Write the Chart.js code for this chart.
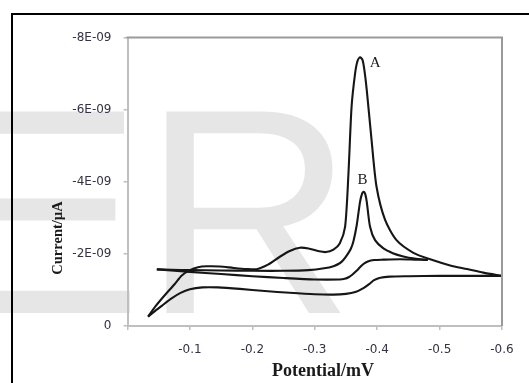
<!DOCTYPE html>
<html><head><meta charset="utf-8">
<script src="https://cdn.jsdelivr.net/npm/chart.js@4/dist/chart.umd.min.js"></script>
<style>html,body{margin:0;padding:0;background:#fff;overflow:hidden}#wrap{position:relative;width:529px;height:383px}</style>
</head><body><div id="wrap"><canvas id="c" width="529" height="383"></canvas></div>
<script>
// Potential in V (x axis is reversed), current in units of 1E-09
const aFwdPotential = [-0.033,-0.045,-0.06,-0.075,-0.087,-0.1,-0.113,-0.127,-0.148,-0.17,-0.19,-0.207,-0.225,-0.244,-0.26,-0.276,-0.29,-0.305,-0.318,-0.33,-0.34,-0.3486,-0.354,-0.359,-0.3646,-0.3685,-0.3726,-0.3765,-0.3795,-0.3833,-0.391,-0.399,-0.4127,-0.431,-0.458,-0.485,-0.517,-0.544,-0.57,-0.6];
const aFwdCurrent   = [-0.26,-0.55,-0.86,-1.15,-1.4,-1.55,-1.63,-1.655,-1.65,-1.61,-1.58,-1.575,-1.7,-1.92,-2.08,-2.17,-2.15,-2.08,-2.05,-2.12,-2.29,-2.75,-4.23,-6.08,-7.0,-7.35,-7.45,-7.38,-7.1,-6.545,-5.16,-3.86,-2.94,-2.38,-2.03,-1.85,-1.68,-1.58,-1.48,-1.39];
const aRevPotential = [-0.6,-0.55,-0.5,-0.45,-0.42,-0.405,-0.395,-0.387,-0.378,-0.365,-0.35,-0.33,-0.3,-0.26,-0.22,-0.18,-0.145,-0.12,-0.1,-0.085,-0.07,-0.055,-0.043,-0.033];
const aRevCurrent   = [-1.39,-1.39,-1.39,-1.38,-1.37,-1.34,-1.27,-1.16,-1.05,-0.94,-0.89,-0.87,-0.88,-0.92,-0.97,-1.03,-1.07,-1.07,-1.02,-0.92,-0.76,-0.56,-0.4,-0.26];
const bFwdPotential = [-0.047,-0.07,-0.1,-0.15,-0.2,-0.25,-0.29,-0.315,-0.33,-0.34,-0.3458,-0.353,-0.358,-0.362,-0.3673,-0.3726,-0.376,-0.3785,-0.381,-0.3833,-0.3886,-0.3966,-0.41,-0.425,-0.442,-0.46,-0.481];
const bFwdCurrent   = [-1.57,-1.56,-1.55,-1.54,-1.53,-1.53,-1.55,-1.6,-1.66,-1.74,-1.83,-2.0,-2.15,-2.35,-2.8,-3.45,-3.68,-3.72,-3.65,-3.45,-2.75,-2.38,-2.15,-2.02,-1.93,-1.87,-1.83];
const bRevPotential = [-0.481,-0.46,-0.437,-0.41,-0.395,-0.385,-0.378,-0.372,-0.367,-0.36,-0.355,-0.348,-0.34,-0.3,-0.25,-0.2,-0.15,-0.1,-0.07,-0.047];
const bRevCurrent   = [-1.83,-1.84,-1.85,-1.84,-1.83,-1.79,-1.72,-1.62,-1.53,-1.42,-1.36,-1.31,-1.29,-1.29,-1.33,-1.38,-1.44,-1.5,-1.54,-1.57];

const xTickValues = [-0.1,-0.2,-0.3,-0.4,-0.5,-0.6];
const yTickValues = [0,-2,-4,-6,-8];
const curveLabels = ['A','B'];
const curveLabelPotential = [-0.3966,-0.3766];
const curveLabelCurrent = [-7.29,-4.05];
const xTitle = 'Potential/mV';
const yTitle = 'Current/\u00b5A';
const watermark = 'ER';

const pts = (xs, ys) => xs.map((x, i) => ({x, y: ys[i]}));
const lineStyle = {showLine:true, borderColor:'#161616', borderWidth:2.1, pointRadius:0, tension:0.25, fill:false};

const deco = {
  id:'deco',
  beforeDraw(chart){
    const c = chart.ctx;
    c.save();
    c.fillStyle = '#fff'; c.fillRect(0,0,chart.width,chart.height);
    c.fillStyle = '#e6e6e6';
    c.font = '293px "Liberation Sans"';
    c.textBaseline = 'alphabetic'; c.textAlign = 'left';
    c.fillText(watermark, -53, 313);
    c.restore();
  },
  afterDraw(chart){
    const c = chart.ctx, a = chart.chartArea;
    const xs = chart.scales.x, ys = chart.scales.y;
    c.save();
    // plot frame top/right
    c.strokeStyle = '#9a9a9a'; c.lineWidth = 2;
    c.beginPath(); c.moveTo(a.left - 1, a.top); c.lineTo(a.right, a.top); c.lineTo(a.right, a.bottom); c.stroke();
    // outer black frame
    c.fillStyle = '#000';
    c.fillRect(11, 13, 2, chart.height - 13);
    c.fillRect(11, 13, chart.width - 11, 2);
    // axis titles
    c.fillStyle = '#1a1a1a';
    c.font = 'bold 18px "Liberation Serif"';
    c.textAlign = 'center'; c.textBaseline = 'alphabetic';
    c.fillText(xTitle, 323, 376);
    c.save();
    c.translate(62, 238); c.rotate(-Math.PI/2);
    c.font = 'bold 14.5px "Liberation Serif"';
    c.fillText(yTitle, 0, 0);
    c.restore();
    // curve labels
    c.font = '15px "Liberation Serif"';
    c.textBaseline = 'middle';
    curveLabels.forEach((t, i) => {
      c.fillText(t, xs.getPixelForValue(curveLabelPotential[i]), ys.getPixelForValue(curveLabelCurrent[i]));
    });
    c.restore();
  }
};

const tickFont = {family:'"DejaVu Sans"', size:12};
new Chart(document.getElementById('c'), {
  type:'scatter',
  data:{datasets:[
    {...lineStyle, label:'A forward', data:pts(aFwdPotential, aFwdCurrent)},
    {...lineStyle, label:'A reverse', data:pts(aRevPotential, aRevCurrent)},
    {...lineStyle, label:'B forward', data:pts(bFwdPotential, bFwdCurrent)},
    {...lineStyle, label:'B reverse', data:pts(bRevPotential, bRevCurrent)}
  ]},
  options:{
    responsive:false, animation:false, devicePixelRatio:1,
    layout:{padding:{left:0, right:27, top:37.5, bottom:0}},
    plugins:{legend:{display:false}, tooltip:{enabled:false}},
    scales:{
      x:{type:'linear', position:'bottom', min:-0.6, max:0, reverse:true,
        afterFit(s){ s.height = 57; },
        afterBuildTicks(s){ s.ticks = [0, ...xTickValues].map(v => ({value:v})); },
        ticks:{padding:13, color:'#333344', font:tickFont, maxRotation:0,
          callback:(v) => v === 0 ? '' : v.toFixed(1)},
        grid:{drawOnChartArea:false, drawTicks:true, tickLength:4, color:'#bfbfbf', lineWidth:1.5},
        border:{color:'#bfbfbf', width:2}},
      y:{type:'linear', position:'left', min:-8, max:0, reverse:true,
        afterFit(s){ s.width = 127.5; },
        afterBuildTicks(s){ s.ticks = yTickValues.map(v => ({value:v})); },
        ticks:{padding:12, color:'#333344', font:tickFont,
          callback:(v) => v === 0 ? '0' : Math.round(v) + 'E-09'},
        grid:{drawOnChartArea:false, drawTicks:true, tickLength:4, color:'#bfbfbf', lineWidth:1.5},
        border:{color:'#bfbfbf', width:2}}
    }
  },
  plugins:[deco]
});
</script></body></html>
